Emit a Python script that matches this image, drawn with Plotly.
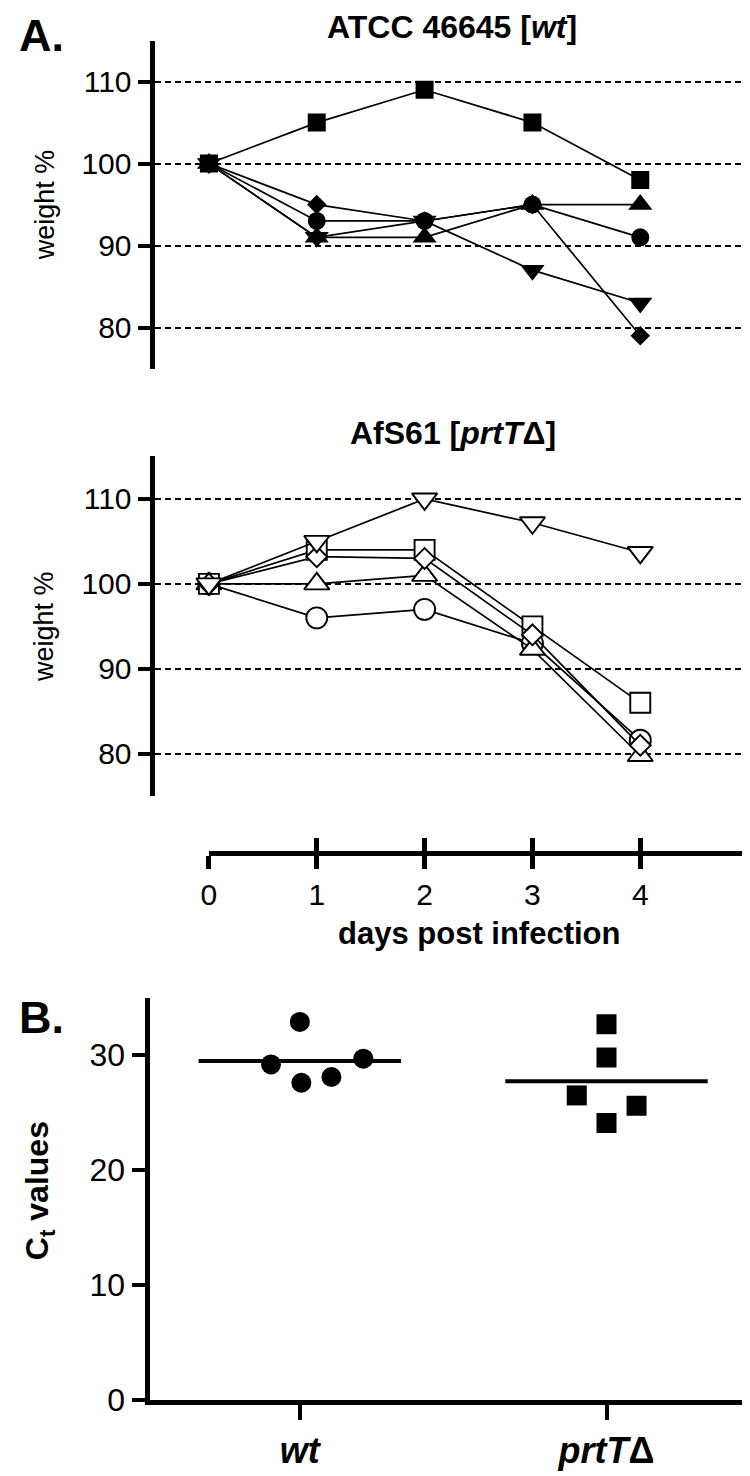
import numpy as np
import plotly.graph_objects as go

W, H = 750, 1476

# ---------------- data ----------------
days = [0, 1, 2, 3, 4]
day_ticks = ["0", "1", "2", "3", "4"]
weight_ticks = [80, 90, 100, 110]

# Panel A top: ATCC 46645 [wt] (filled symbols)
wt_square = [100, 105, 109, 105, 98]
wt_diamond = [100, 95, 93, 95, 79]
wt_circle = [100, 93, 93, 95, 91]
wt_tri_up = [100, 91, 91, 95, 95]
wt_tri_down = [100, 91, 93, 87, 83]

# Panel A bottom: AfS61 [prtTΔ] (open symbols)
mut_circle = [100, 96, 97, 93, 81.6]
mut_tri_up = [100, 100, 101, 92.3, 79.8]
mut_square = [100, 104, 104, 95, 86]
mut_diamond = [100, 103.2, 103, 94, 81]
mut_tri_down = [100, 105, 110, 107.2, 103.7]

# Panel B: Ct values
group_labels = ["<b><i>wt</i></b>", "<b><i>prtT</i>Δ</b>"]
ct_wt = [32.9, 29.2, 29.7, 27.6, 28.1]
ct_wt_jitter = [0.0, -0.094, 0.207, 0.005, 0.103]
ct_mut = [32.7, 29.8, 26.5, 25.6, 24.1]
ct_mut_jitter = [0.0, 0.0, -0.097, 0.098, 0.0]
ct_ticks = [0, 10, 20, 30]


def py(p):
    return 1 - p / H


def px(p):
    return p / W


FONT = "Liberation Sans, Arial, sans-serif"

fig = go.Figure()

# ---------- top panel ----------
top_series = [
    (wt_tri_down, "triangle-down", 21),
    (wt_tri_up, "triangle-up", 21),
    (wt_circle, "circle", 18),
    (wt_diamond, "diamond", 15),
    (wt_square, "square", 18),
]
for ys, sym, sz in top_series:
    fig.add_trace(go.Scatter(
        x=days, y=ys, mode="lines+markers", xaxis="x", yaxis="y",
        line=dict(color="black", width=1.7),
        marker=dict(symbol=sym, size=sz, color="black", line=dict(width=0)),
        hoverinfo="skip"))

# ---------- bottom panel ----------
bot_series = [
    (mut_circle, "circle", 21),
    (mut_tri_up, "triangle-up", 22),
    (mut_square, "square", 20),
    (mut_diamond, "diamond", 16),
    (mut_tri_down, "triangle-down", 22),
]
for ys, sym, sz in bot_series:
    fig.add_trace(go.Scatter(
        x=days, y=ys, mode="lines+markers", xaxis="x2", yaxis="y2",
        line=dict(color="black", width=1.7),
        marker=dict(symbol=sym, size=sz, color="white",
                    line=dict(width=1.9, color="black")),
        hoverinfo="skip"))

# ---------- days axis (dummy traces so axes render) ----------
fig.add_trace(go.Scatter(x=[0], y=[-5], xaxis="x3", yaxis="y3", mode="markers",
                         marker=dict(opacity=0), hoverinfo="skip"))
fig.add_trace(go.Scatter(x=[0], y=[-5], xaxis="x4", yaxis="y3", mode="markers",
                         marker=dict(opacity=0), hoverinfo="skip"))

# ---------- panel B ----------
fig.add_trace(go.Scatter(
    x=[0 + j for j in ct_wt_jitter], y=ct_wt, mode="markers", xaxis="x5", yaxis="y5",
    marker=dict(symbol="circle", size=20, color="black"), hoverinfo="skip"))
fig.add_trace(go.Scatter(
    x=[1 + j for j in ct_mut_jitter], y=ct_mut, mode="markers", xaxis="x5", yaxis="y5",
    marker=dict(symbol="square", size=20, color="black"), hoverinfo="skip"))
for i, vals in enumerate([ct_wt, ct_mut]):
    m = float(np.mean(vals))
    fig.add_trace(go.Scatter(x=[i - 0.33, i + 0.33], y=[m, m], mode="lines",
                             xaxis="x5", yaxis="y5",
                             line=dict(color="black", width=4), hoverinfo="skip"))

# ---------- layout ----------
x_lo = (140 - 195) / 109
x_hi = (742 - 195) / 109

yax_common = dict(
    range=[75, 115], tickvals=weight_ticks, showline=True, linewidth=5,
    linecolor="black", ticks="outside", ticklen=12, tickwidth=4, tickcolor="black",
    showgrid=True, gridcolor="black", griddash="6px,4px", gridwidth=2,
    zeroline=False, tickfont=dict(family=FONT, size=30, color="black"),
)
xhidden = dict(range=[x_lo, x_hi], visible=False, showgrid=False, zeroline=False)

fig.update_layout(
    width=W, height=H, margin=dict(l=0, r=0, t=0, b=0),
    paper_bgcolor="white", plot_bgcolor="white", showlegend=False,
    xaxis=dict(domain=[px(140), px(742)], anchor="y", **xhidden),
    yaxis=dict(domain=[py(365), py(33)], anchor="x", **yax_common),
    xaxis2=dict(domain=[px(140), px(742)], anchor="y2", **xhidden),
    yaxis2=dict(domain=[py(798), py(454)], anchor="x2", **yax_common),
    xaxis3=dict(domain=[px(195), 1.0], anchor="y3", range=[0, (750 - 195) / 109],
                tickvals=days, ticktext=day_ticks, showline=True, linewidth=5,
                linecolor="black", ticks="outside", ticklen=13, tickwidth=5,
                tickcolor="black", showgrid=False, zeroline=False,
                tickfont=dict(family=FONT, size=30, color="black")),
    xaxis4=dict(overlaying="x3", anchor="y3", range=[0, (750 - 195) / 109],
                tickvals=days, showticklabels=False, showline=False,
                ticks="inside", ticklen=13, tickwidth=5, tickcolor="black",
                showgrid=False, zeroline=False),
    yaxis3=dict(domain=[py(853), py(853) + 0.004], anchor="x3", range=[0, 1],
                visible=False),
    xaxis5=dict(domain=[px(135), 1.0], anchor="y5", range=[-0.49, 1.494],
                tickvals=[0, 1], ticktext=group_labels,
                showline=True, linewidth=5, linecolor="black", ticks="outside",
                ticklen=15, tickwidth=4, tickcolor="black", showgrid=False,
                zeroline=False, tickfont=dict(family=FONT, size=36, color="black")),
    yaxis5=dict(domain=[py(1409), py(1002)], anchor="x5", range=[0, 35],
                tickvals=ct_ticks, showline=True, linewidth=5, linecolor="black",
                ticks="outside", ticklen=13, tickwidth=4, tickcolor="black",
                showgrid=False, zeroline=False,
                tickfont=dict(family=FONT, size=32, color="black"),
                tickprefix="<b>", ticksuffix="</b>"),
)

ann = []


def add_text(text, x, y, size, angle=0, xanchor="center", yanchor="middle"):
    ann.append(dict(text=text, x=px(x), y=py(y), xref="paper", yref="paper",
                    showarrow=False, textangle=angle, xanchor=xanchor,
                    yanchor=yanchor,
                    font=dict(family=FONT, size=size, color="black")))


add_text("<b>A.</b>", 1, 28, 45, xanchor="left")
add_text("<b>B.</b>", 1, 1022, 45, xanchor="left")
add_text("<b>ATCC 46645 [<i>wt</i>]</b>", 441, 19, 32)
add_text("<b>AfS61 [<i>prtT</i>Δ]</b>", 442, 430, 32)
add_text("weight %", 29, 199, 27, angle=-90)
add_text("weight %", 29, 626, 27, angle=-90)
add_text("<b>days post infection</b>", 468, 937, 31)
add_text("<b>C<sub>t</sub> values</b>", 24, 1197, 32, angle=-90)
fig.update_layout(annotations=ann)

fig.write_html("out.html")
